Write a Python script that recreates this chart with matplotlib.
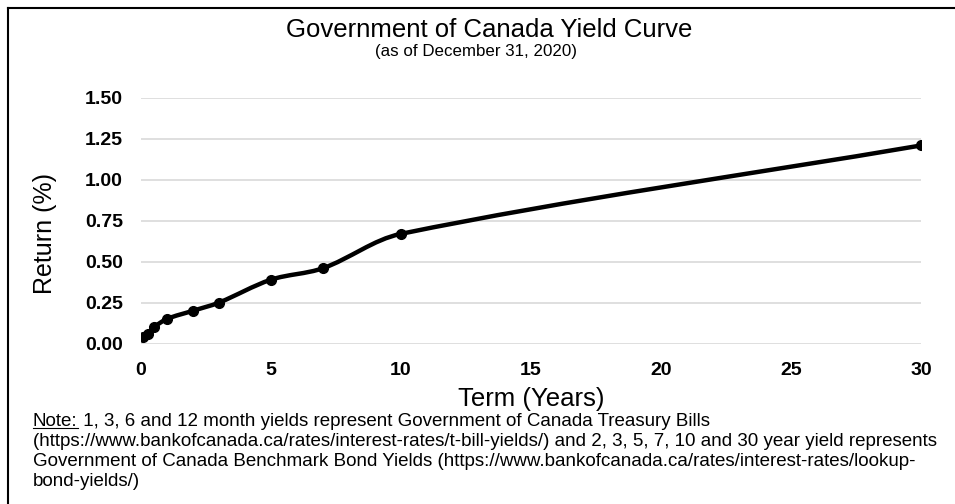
import numpy as np
import matplotlib
matplotlib.use("Agg")
import matplotlib.pyplot as plt
from matplotlib.path import Path
from matplotlib.patches import PathPatch
from matplotlib.lines import Line2D

# Term in years and yields in percent
terms = [1 / 12, 0.25, 0.5, 1, 2, 3, 5, 7, 10, 30]
yields = [0.04, 0.06, 0.10, 0.15, 0.20, 0.25, 0.39, 0.46, 0.67, 1.21]

x_ticks = [0, 5, 10, 15, 20, 25, 30]
y_ticks = [0.00, 0.25, 0.50, 0.75, 1.00, 1.25, 1.50]

title = "Government of Canada Yield Curve"
subtitle = "(as of December 31, 2020)"
note_lines = [
    " 1, 3, 6 and 12 month yields represent Government of Canada Treasury Bills",
    "(https://www.bankofcanada.ca/rates/interest-rates/t-bill-yields/) and 2, 3, 5, 7, 10 and 30 year yield represents",
    "Government of Canada Benchmark Bond Yields (https://www.bankofcanada.ca/rates/interest-rates/lookup-",
    "bond-yields/)",
]

plt.rcParams['font.family'] = ['Liberation Sans', 'DejaVu Sans']
note_size = 13.5

fig = plt.figure(figsize=(9.55, 5.04), dpi=100)
ax = fig.add_axes([141 / 955, 1 - 343.5 / 504, 780 / 955, 245.5 / 504])
ax.set_xlim(0, 30)
ax.set_ylim(0, 1.5)


def smooth_path(xs, ys):
    # smoothed line like a spreadsheet chart: cubic bezier pieces with
    # chord-length scaled tangents, worked out in screen space
    pts = ax.transData.transform(np.column_stack([xs, ys]))
    n = len(pts)
    d = np.hypot(*np.diff(pts, axis=0).T)
    tang = np.zeros_like(pts)
    for i in range(n):
        a = pts[max(i - 1, 0)]
        b = pts[min(i + 1, n - 1)]
        dl = d[i - 1] if i > 0 else 0
        dr = d[i] if i < n - 1 else 0
        tang[i] = (b - a) / (dl + dr)
    verts = [pts[0]]
    codes = [Path.MOVETO]
    for i in range(n - 1):
        verts += [pts[i] + tang[i] * d[i] / 3,
                  pts[i + 1] - tang[i + 1] * d[i] / 3,
                  pts[i + 1]]
        codes += [Path.CURVE4] * 3
    verts = ax.transData.inverted().transform(np.array(verts))
    return Path(verts, codes)


ax.add_patch(PathPatch(smooth_path(terms, yields), facecolor='none',
                       edgecolor='black', lw=3.2, capstyle='round', zorder=3))
ax.plot(terms, yields, linestyle='none', marker='o', markersize=7,
        color='black', zorder=4)

ax.set_xticks(x_ticks)
ax.set_xticklabels([str(t) for t in x_ticks], fontsize=14, fontweight='bold')
ax.set_yticks(y_ticks)
ax.set_yticklabels([f"{v:.2f}" for v in y_ticks], fontsize=14, fontweight='bold')
ax.tick_params(length=0, pad=13)
ax.yaxis.grid(True, color='#d9d9d9', lw=1.2)
ax.set_axisbelow(True)
for s in ax.spines.values():
    s.set_visible(False)

fig.text(489 / 955, 1 - 30 / 504, title, fontsize=18.5, ha='center', va='center')
fig.text(476 / 955, 1 - 51.5 / 504, subtitle, fontsize=12.2, ha='center', va='center')
fig.text(531 / 955, 1 - 399 / 504, "Term (Years)", fontsize=18.5, ha='center', va='center')
fig.text(45 / 955, 1 - 233 / 504, "Return (%)", fontsize=18, rotation=90,
         ha='center', va='center')

# note block, "Note:" underlined
line_y = [421, 441, 461, 481]
x0 = 33 / 955
note_lbl = fig.text(x0, 1 - line_y[0] / 504, "Note:", fontsize=note_size,
                    ha='left', va='center')
fig.canvas.draw()
bb = note_lbl.get_window_extent().transformed(fig.transFigure.inverted())
fig.add_artist(Line2D([bb.x0, bb.x1], [bb.y0 + 0.003, bb.y0 + 0.003],
                      color='black', lw=0.8, transform=fig.transFigure))
fig.text(bb.x1, 1 - line_y[0] / 504, note_lines[0], fontsize=note_size,
         ha='left', va='center')
for yy, txt in zip(line_y[1:], note_lines[1:]):
    fig.text(x0, 1 - yy / 504, txt, fontsize=note_size, ha='left', va='center')

# outer frame (top and left edges visible)
fig.add_artist(Line2D([8 / 955, 1], [1 - 7.5 / 504, 1 - 7.5 / 504],
                      color='black', lw=1.5, transform=fig.transFigure))
fig.add_artist(Line2D([8 / 955, 8 / 955], [0, 1 - 7.5 / 504],
                      color='black', lw=1.5, transform=fig.transFigure))

fig.savefig("out.png", dpi=100)
